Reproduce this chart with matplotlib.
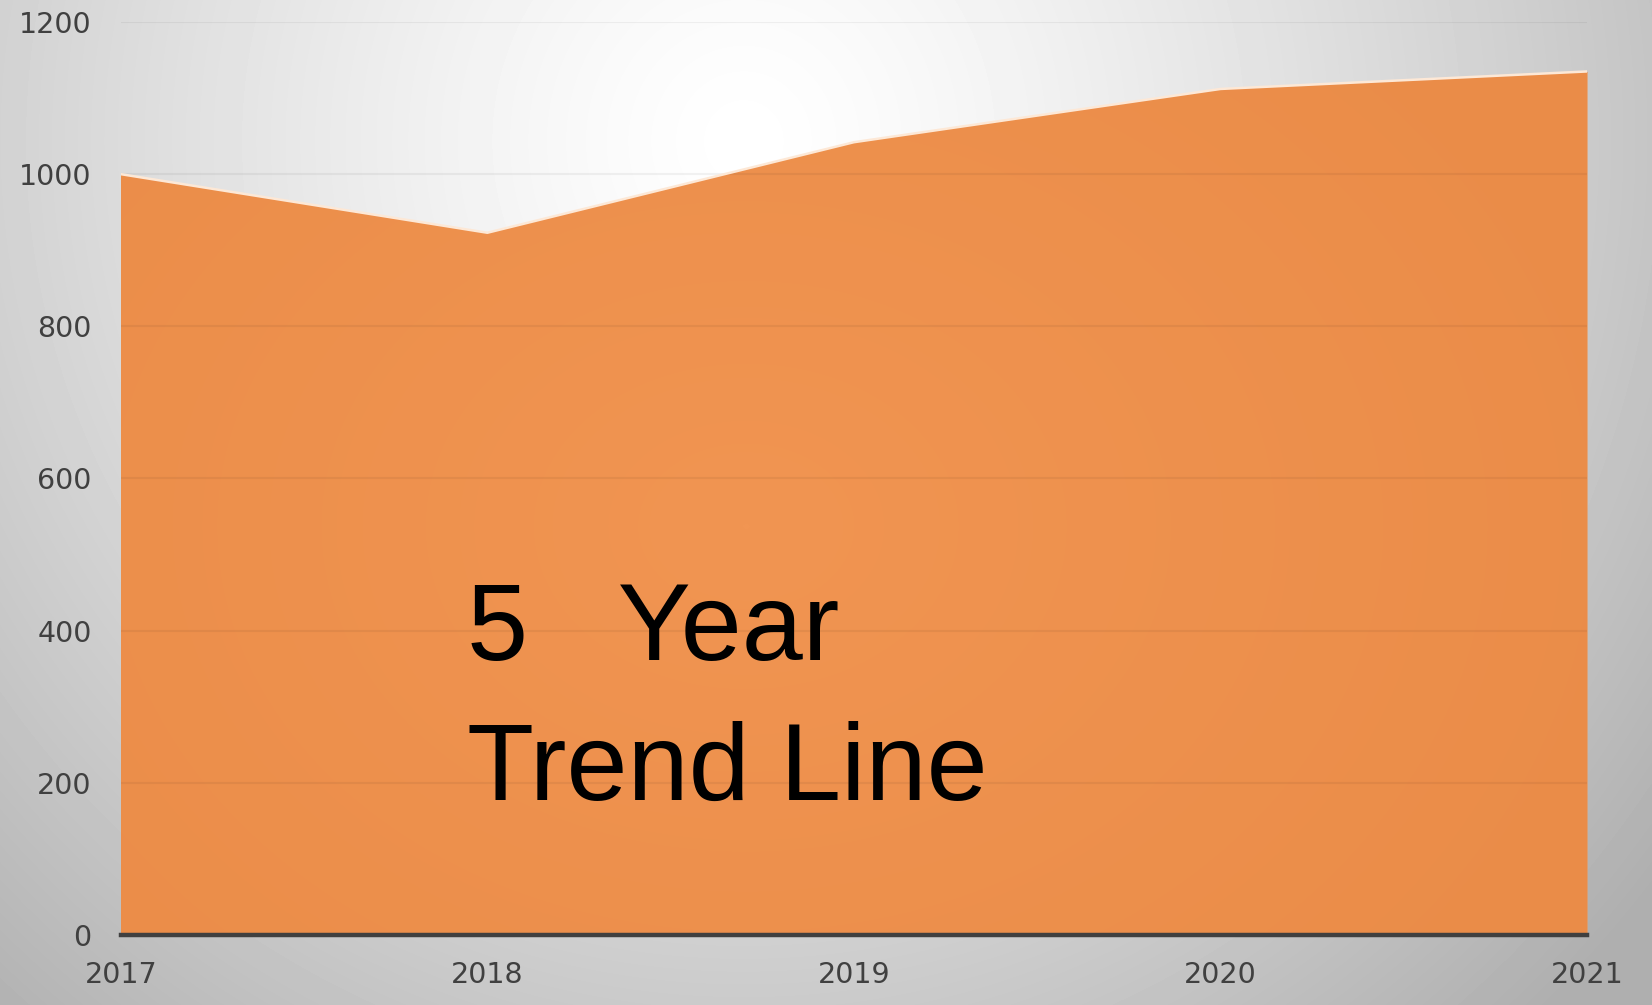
import numpy as np
import matplotlib
matplotlib.use("Agg")
import matplotlib.pyplot as plt
from matplotlib.colors import LinearSegmentedColormap

plt.rcParams['font.family'] = ['Liberation Sans', 'DejaVu Sans']

years = [2017, 2018, 2019, 2020, 2021]
values = [1000, 923, 1042, 1112, 1135]
y_ticks = [0, 200, 400, 600, 800, 1000, 1200]
title_lines = ["5   Year", "Trend Line"]

W, H = 1652, 1005
fig = plt.figure(figsize=(W / 100, H / 100), dpi=100)

# grey radial background, light near the top middle
bg_ax = fig.add_axes([0, 0, 1, 1], zorder=0)
yy, xx = np.mgrid[0:H, 0:W]
r = np.sqrt(((xx - 0.45 * W) / (0.62 * W)) ** 2 + ((yy - 0.14 * H) / (1.05 * H)) ** 2)
bg = 255 - 68 * np.clip(r, 0, 1.3) ** 1.3
bg = np.clip(bg, 175, 255) / 255.0
bg_ax.imshow(bg, cmap='gray', vmin=0, vmax=1, aspect='auto', interpolation='bilinear')
bg_ax.axis('off')

ax = fig.add_axes([0.0731, 0.0697, 0.8876, 0.9084], zorder=1)
ax.patch.set_alpha(0)

poly = ax.fill_between(years, values, 0, color='#ee924e', lw=0, zorder=1)

# soft radial shading inside the orange area
oy, ox = np.mgrid[0:200, 0:400]
ro = np.sqrt(((ox - 170) / 260.0) ** 2 + ((oy - 110) / 160.0) ** 2)
orange_cmap = LinearSegmentedColormap.from_list('o', ['#f19552', '#ea8c48'])
im = ax.imshow(np.clip(ro, 0, 1), cmap=orange_cmap, vmin=0, vmax=1,
               extent=[2017, 2021, 0, 1200], aspect='auto', origin='upper',
               interpolation='bilinear', zorder=1.5)
im.set_clip_path(poly.get_paths()[0], transform=ax.transData)

ax.plot(years, values, color='#fde8d6', lw=1.8, zorder=2.6, solid_capstyle='butt')

ax.set_xlim(2017, 2021)
ax.set_ylim(0, 1200)
ax.set_xticks(years)
ax.set_yticks(y_ticks)
ax.set_axisbelow(False)
ax.yaxis.grid(True, color='black', alpha=0.05, lw=1.5)
ax.xaxis.grid(False)

for s in ['top', 'right', 'left']:
    ax.spines[s].set_visible(False)
ax.spines['bottom'].set_color('#404040')
ax.spines['bottom'].set_linewidth(3.2)
ax.spines['bottom'].set_zorder(3)

ax.tick_params(axis='y', length=0, pad=21, labelsize=20.5, labelcolor='#404040')
ax.tick_params(axis='x', length=0, pad=19, labelsize=20.5, labelcolor='#404040')
for lab in ax.get_xticklabels() + ax.get_yticklabels():
    lab.set_fontfamily('DejaVu Sans')

ax.text(2017.944, 361, title_lines[0], fontsize=79, color='black',
        ha='left', va='baseline', zorder=4)
ax.text(2017.944, 177, title_lines[1], fontsize=79, color='black',
        ha='left', va='baseline', zorder=4)

fig.savefig("out.png", dpi=100)
